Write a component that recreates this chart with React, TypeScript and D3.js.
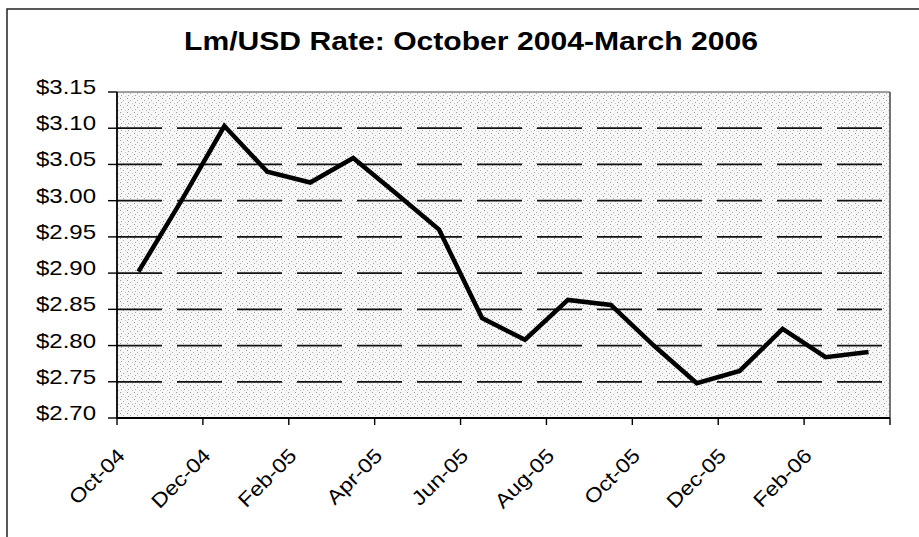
import React from "react";
import * as d3 from "d3";

const months = [
  "Oct-04", "Nov-04", "Dec-04", "Jan-05", "Feb-05", "Mar-05",
  "Apr-05", "May-05", "Jun-05", "Jul-05", "Aug-05", "Sep-05",
  "Oct-05", "Nov-05", "Dec-05", "Jan-06", "Feb-06", "Mar-06",
];
const rates = [
  2.902, 3.0, 3.103, 3.04, 3.025, 3.059,
  3.01, 2.96, 2.838, 2.808, 2.863, 2.856,
  2.8, 2.748, 2.765, 2.823, 2.784, 2.791,
];
const yTicks = [2.7, 2.75, 2.8, 2.85, 2.9, 2.95, 3.0, 3.05, 3.1, 3.15];

const W = 919;
const H = 537;
const left = 117;
const right = 890;
const top = 92;
const bottom = 418;
const font = "'Liberation Sans', Arial, sans-serif";

export default function App() {
  const x = d3.scaleBand<string>().domain(months).range([left, right]).padding(0);
  const y = d3.scaleLinear().domain([2.7, 3.15]).range([bottom, top]);

  const line = d3
    .line<number>()
    .x((_, i) => (x(months[i]) as number) + x.bandwidth() / 2)
    .y((d) => y(d));

  // tick marks every second month, plus the closing edge
  const tickIdx = months.map((_, i) => i).filter((i) => i % 2 === 0);
  const tickXs = [...tickIdx.map((i) => x(months[i]) as number), right];

  return (
    <svg
      width={W}
      height={H}
      style={{ position: "absolute", left: 0, top: 0, background: "#fff" }}
    >
      <defs>
        <pattern id="stip" width="7" height="7" patternUnits="userSpaceOnUse">
          <rect width="7" height="7" fill="#f7f7f7" />
          <rect x="1" y="0" width="1" height="1" fill="#9a9a9a" />
          <rect x="4" y="2" width="1" height="1" fill="#b0b0b0" />
          <rect x="2" y="4" width="1" height="1" fill="#a4a4a4" />
          <rect x="6" y="5" width="1" height="1" fill="#c4c4c4" />
        </pattern>
      </defs>

      {/* outer chart frame */}
      <rect x={7} y={9} width={W} height={H} fill="none" stroke="#222" strokeWidth={1.5} />

      <text
        x={471}
        y={50}
        textAnchor="middle"
        fontFamily={font}
        fontWeight="bold"
        fontSize={26}
        textLength={574}
        lengthAdjust="spacingAndGlyphs"
      >
        Lm/USD Rate: October 2004-March 2006
      </text>

      {/* plot area */}
      <rect x={left} y={top} width={right - left} height={bottom - top} fill="url(#stip)" />

      {yTicks.slice(1, -1).map((t) => (
        <line
          key={t}
          x1={left}
          x2={right}
          y1={y(t)}
          y2={y(t)}
          stroke="#111"
          strokeWidth={1.8}
          strokeDasharray="45,15"
        />
      ))}

      <line x1={left} x2={right} y1={top} y2={top} stroke="#444" strokeWidth={1.2} />
      <line x1={right} x2={right} y1={top} y2={bottom} stroke="#444" strokeWidth={1.5} />

      {/* y axis */}
      <line x1={left} x2={left} y1={top} y2={bottom} stroke="#000" strokeWidth={1.8} />
      {yTicks.map((t) => (
        <g key={t}>
          <line x1={108} x2={left} y1={y(t)} y2={y(t)} stroke="#000" strokeWidth={1.4} />
          <text
            transform={`translate(96,${y(t) + 2}) scale(1.2,1)`}
            textAnchor="end"
            fontFamily={font}
            fontSize={20}
          >
            {d3.format("$.2f")(t)}
          </text>
        </g>
      ))}

      {/* x axis */}
      <line x1={left} x2={right} y1={bottom} y2={bottom} stroke="#000" strokeWidth={1.8} />
      {tickXs.map((tx, i) => (
        <line key={i} x1={tx} x2={tx} y1={bottom} y2={bottom + 7} stroke="#000" strokeWidth={1.4} />
      ))}
      {tickIdx.map((i) => (
        <text
          key={months[i]}
          transform={`translate(${(x(months[i]) as number) + 9},457) rotate(-45) scale(1.15,1)`}
          textAnchor="end"
          fontFamily={font}
          fontSize={20}
        >
          {months[i]}
        </text>
      ))}

      <path
        d={line(rates) || ""}
        fill="none"
        stroke="#000"
        strokeWidth={4.5}
        strokeLinejoin="miter"
      />
    </svg>
  );
}
